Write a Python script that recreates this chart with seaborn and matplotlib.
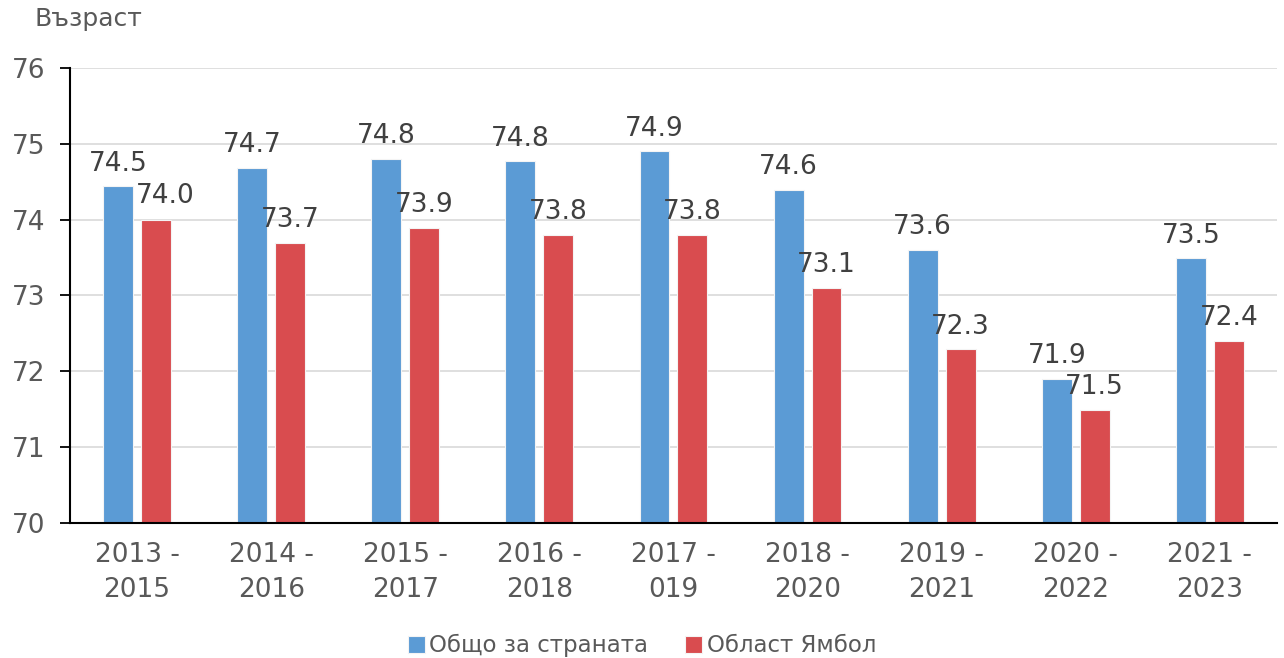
import matplotlib
matplotlib.use("Agg")
import matplotlib.pyplot as plt
import seaborn as sns
import pandas as pd

# Data
periods = ['2013 -\n2015', '2014 -\n2016', '2015 -\n2017', '2016 -\n2018', '2017 -\n019',
           '2018 -\n2020', '2019 -\n2021', '2020 -\n2022', '2021 -\n2023']
country = [74.44, 74.68, 74.80, 74.77, 74.90, 74.39, 73.60, 71.90, 73.49]
yambol = [74.00, 73.69, 73.89, 73.80, 73.80, 73.10, 72.29, 71.49, 72.40]
country_labels = ['74.5', '74.7', '74.8', '74.8', '74.9', '74.6', '73.6', '71.9', '73.5']
yambol_labels = ['74.0', '73.7', '73.9', '73.8', '73.8', '73.1', '72.3', '71.5', '72.4']
series_names = ['Общо за страната', 'Област Ямбол']

df = pd.DataFrame({
    'period': periods * 2,
    'value': country + yambol,
    'series': [series_names[0]] * len(periods) + [series_names[1]] * len(periods),
})

sns.set_style('white')
plt.rcParams['font.family'] = ['DejaVu Sans']
text_color = '#595959'

fig = plt.figure(figsize=(12.84, 6.58), dpi=100)
ax = fig.add_axes([0.0545, 0.2052, 0.94, 0.6915])

sns.barplot(data=df, x='period', y='value', hue='series', ax=ax,
            palette=['#5B9BD5', '#D94C4F'], saturation=1, width=0.565, gap=0.21,
            edgecolor='#f4f4f4', linewidth=0.8, legend=True)

ax.set_ylim(70, 76)
ax.set_yticks(range(70, 77))
ax.yaxis.grid(True, color='#d9d9d9', linewidth=1.2)
ax.set_axisbelow(True)
ax.set_xlim(-0.5, len(periods) - 0.5)

for side in ['top', 'right']:
    ax.spines[side].set_visible(False)
ax.spines['left'].set_color('black')
ax.spines['bottom'].set_color('black')
ax.spines['left'].set_linewidth(1.5)
ax.spines['bottom'].set_linewidth(1.5)

ax.tick_params(axis='y', left=True, length=7, width=1.3, color='black',
               labelsize=19, labelcolor=text_color, pad=11)
ax.tick_params(axis='x', bottom=False, labelsize=19, labelcolor=text_color, pad=10)
for lbl in ax.get_xticklabels():
    lbl.set_linespacing(1.45)
ax.set_xlabel('')
ax.set_ylabel('')

texts = []
for container, labels in zip(ax.containers, [country_labels, yambol_labels]):
    texts.append(ax.bar_label(container, labels=labels, padding=7, fontsize=19, color='#404040'))

# first red label sits a bit to the right in the original to avoid overlap
texts[1][0].xyann = (7, 8)

handles, names = ax.get_legend_handles_labels()
ax.get_legend().remove()
fig.legend(handles, names, loc='lower center', bbox_to_anchor=(0.5, -0.03), ncol=2,
           frameon=False, fontsize=16.5, labelcolor=text_color,
           handlelength=0.75, handleheight=0.75, handletextpad=0.2, columnspacing=1.6)

fig.text(0.027, 0.99, 'Възраст', fontsize=18, color=text_color, va='top', ha='left')

fig.savefig('out.png', dpi=100)
